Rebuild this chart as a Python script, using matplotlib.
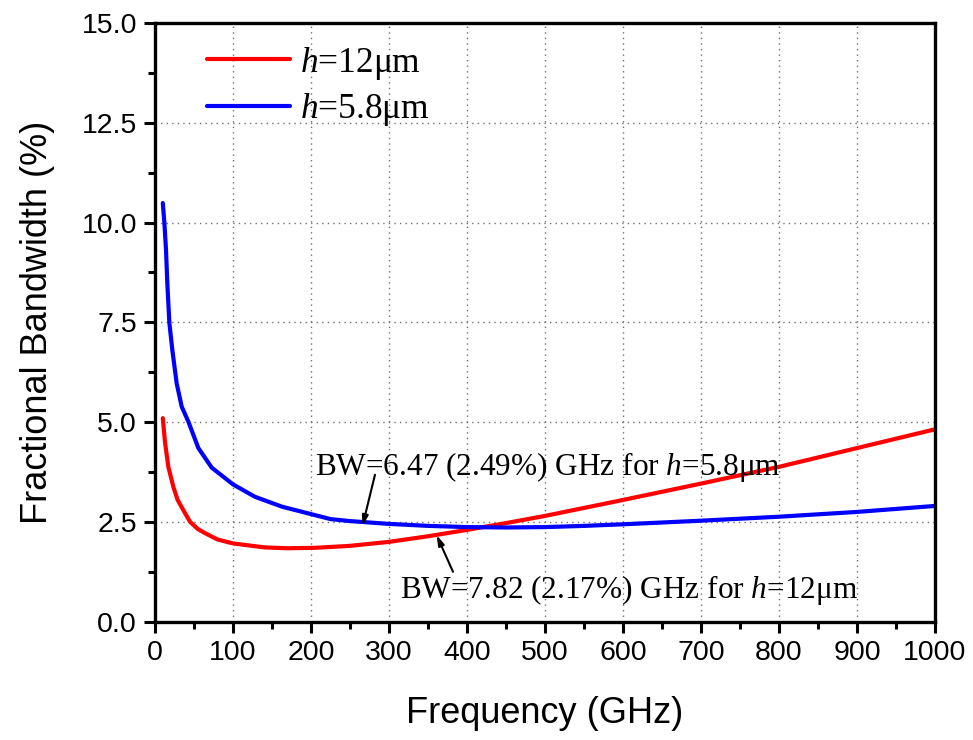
import numpy as np
import matplotlib
matplotlib.use("Agg")
import matplotlib.pyplot as plt
from matplotlib.ticker import MultipleLocator, FormatStrFormatter

plt.rcParams['font.family'] = 'Liberation Sans'
plt.rcParams['mathtext.fontset'] = 'custom'
plt.rcParams['mathtext.rm'] = 'Liberation Serif'
plt.rcParams['mathtext.it'] = 'Liberation Serif:italic'

# values
freq_12 = [10, 12.8, 17.1, 23.5, 29, 38.5, 45, 55, 64, 80, 100, 141, 170, 205,
           250, 300, 350, 400, 450, 500, 600, 700, 800, 900, 1000]
bw_12 = [5.10, 4.50, 3.88, 3.38, 3.05, 2.72, 2.50, 2.32, 2.22, 2.06, 1.96, 1.86,
         1.84, 1.85, 1.90, 2.00, 2.14, 2.30, 2.47, 2.65, 3.05, 3.46, 3.88, 4.35, 4.82]

freq_58 = [10, 12, 14.1, 15.8, 18.4, 22.2, 27.8, 34.2, 42.8, 55.6, 72.7, 100,
           128, 163, 205, 225, 250, 300, 350, 400, 450, 500, 550, 600, 700,
           800, 900, 1000]
bw_58 = [10.49, 10.0, 9.32, 8.48, 7.49, 6.81, 5.97, 5.39, 5.01, 4.35, 3.86, 3.44,
         3.13, 2.88, 2.67, 2.57, 2.52, 2.45, 2.40, 2.37, 2.36, 2.37, 2.40, 2.44,
         2.53, 2.63, 2.75, 2.90]

labels = [r'$h$=12μm', r'$h$=5.8μm']
notes = [r'BW=6.47 (2.49%) GHz for $h$=5.8μm', r'BW=7.82 (2.17%) GHz for $h$=12μm']

fig = plt.figure(figsize=(9.73, 7.4), dpi=100)
ax = fig.add_axes([0.1593, 0.1599, 0.8017, 0.809])

ax.plot(freq_12, bw_12, color='#ff0000', lw=3, label=labels[0], solid_capstyle='round')
ax.plot(freq_58, bw_58, color='#0000ff', lw=3, label=labels[1], solid_capstyle='round')

ax.set_xlim(0, 1000)
ax.set_ylim(0, 15)
ax.xaxis.set_major_locator(MultipleLocator(100))
ax.xaxis.set_minor_locator(MultipleLocator(50))
ax.yaxis.set_major_locator(MultipleLocator(2.5))
ax.yaxis.set_minor_locator(MultipleLocator(1.25))
ax.yaxis.set_major_formatter(FormatStrFormatter('%.1f'))

ax.grid(True, which='major', color='#707070', linestyle=(0, (1, 3)), linewidth=1)
ax.set_axisbelow(True)
for s in ax.spines.values():
    s.set_linewidth(2.4)
ax.tick_params(which='major', direction='out', length=8, width=2.2, labelsize=20.5, pad=5)
ax.tick_params(which='minor', direction='out', length=5, width=2.2)

ax.set_xlabel('Frequency (GHz)', fontsize=26, labelpad=22)
ax.set_ylabel('Fractional Bandwidth (%)', fontsize=26, labelpad=19)

serif = {'family': 'Liberation Serif', 'size': 22.5}
arrow = dict(arrowstyle='-|>,head_length=0.6,head_width=0.18', color='black', lw=1.5,
             shrinkA=0, shrinkB=0)
ax.annotate('', xy=(266, 2.40), xytext=(282, 3.68), arrowprops=arrow)
ax.text(205, 3.68, notes[0], fontdict=serif, ha='left', va='baseline')
ax.annotate('', xy=(361, 2.17), xytext=(382, 1.25), arrowprops=arrow)
ax.text(314, 0.585, notes[1], fontdict=serif, ha='left', va='baseline')

ax.legend(loc='upper left', bbox_to_anchor=(0.0663, 0.964), frameon=False,
          prop={'family': 'Liberation Serif', 'size': 25.5}, handlelength=2.34,
          handletextpad=0.28, labelspacing=0.28, borderaxespad=0, borderpad=0)

fig.savefig('out.png', dpi=100)
